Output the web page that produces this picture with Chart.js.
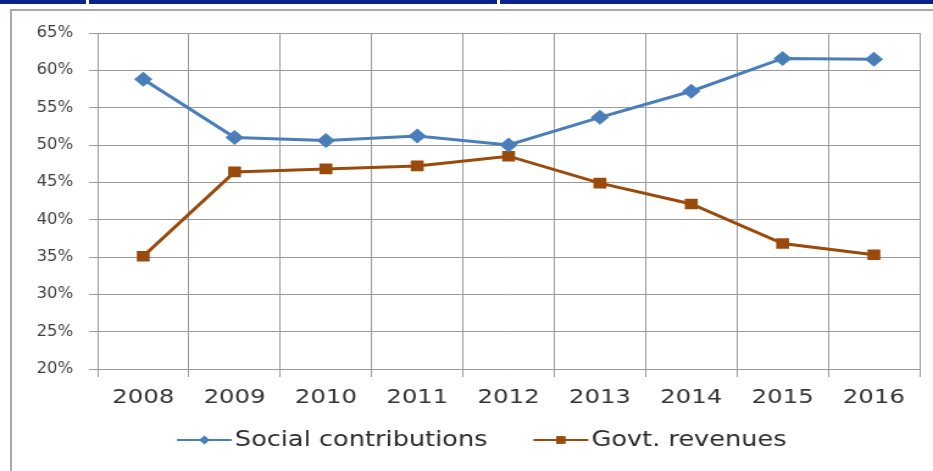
<!DOCTYPE html>
<html>
<head>
<meta charset="utf-8">
<title>Social contributions vs Govt. revenues</title>
<script src="https://cdn.jsdelivr.net/npm/chart.js@4/dist/chart.umd.min.js"></script>
<style>
  html, body { margin: 0; padding: 0; background: #fff; }
  body { width: 933px; height: 471px; position: relative; overflow: hidden; }
  .band { position: absolute; left: 0; top: 0; width: 933px; height: 4px; background: #0b238c; }
  .notch { position: absolute; top: 0; width: 3px; height: 4px; background: #fff; }
  .frame { position: absolute; left: 10px; top: 9px; width: 940px; height: 480px;
           border-left: 2px solid #a8a8a8; border-top: 2px solid #a8a8a8; }
  #chart { position: absolute; left: 0; top: 0; width: 765px; height: 471px;
           transform: scaleX(1.2196); transform-origin: 0 0; }
</style>
</head>
<body>
<div class="band"></div>
<div class="notch" style="left:86px"></div>
<div class="notch" style="left:497px"></div>
<div class="frame"></div>
<canvas id="chart" width="765" height="471"></canvas>
<script>
// --- DATOS ---
const years = ['2008', '2009', '2010', '2011', '2012', '2013', '2014', '2015', '2016'];
const socialContributions = [58.8, 51.0, 50.6, 51.2, 50.0, 53.7, 57.2, 61.6, 61.5];
const govtRevenues = [35.1, 46.4, 46.8, 47.2, 48.5, 44.9, 42.1, 36.8, 35.3];
const yTicks = [20, 25, 30, 35, 40, 45, 50, 55, 60, 65];

const BLUE = '#4a7ebb';
const BROWN = '#9a4b0b';
const GRID = '#9a9a9a';
const FONT = "'DejaVu Sans', Verdana, sans-serif";
const FONT_NARROW = "'DejaVu Sans Condensed', 'DejaVu Sans', sans-serif";

// leyenda con linea + marcador, debajo del eje
const lineLegend = {
  id: 'lineLegend',
  afterDraw(chart) {
    const ctx = chart.ctx;
    const y = 440;
    const lineLen = 45, gapText = 2.5, gapItem = 37.7;
    ctx.save();
    ctx.font = '21px ' + FONT;
    ctx.textBaseline = 'middle';
    const items = chart.data.datasets.map(ds => ({
      ds, w: lineLen + gapText + ctx.measureText(ds.label).width
    }));
    const total = items.reduce((s, it) => s + it.w, 0) + gapItem * (items.length - 1);
    let x = 395 - total / 2;
    items.forEach(({ ds, w }) => {
      ctx.strokeStyle = ds.borderColor;
      ctx.lineWidth = 2;
      ctx.beginPath();
      ctx.moveTo(x, y);
      ctx.lineTo(x + lineLen, y);
      ctx.stroke();
      ctx.fillStyle = ds.pointBackgroundColor;
      Chart.helpers.drawPoint(ctx, {
        pointStyle: ds.pointStyle, radius: ds.pointStyle === 'rect' ? 5.5 : 4.5, borderWidth: 0
      }, x + lineLen / 2, y);
      ctx.fillStyle = '#2b2b2b';
      ctx.fillText(ds.label, x + lineLen + gapText, y + 1);
      x += w + gapItem;
    });
    ctx.restore();
  }
};

new Chart(document.getElementById('chart'), {
  type: 'line',
  data: {
    labels: years,
    datasets: [
      {
        label: 'Social contributions',
        data: socialContributions,
        borderColor: BLUE,
        backgroundColor: BLUE,
        pointBackgroundColor: BLUE,
        pointBorderColor: BLUE,
        pointStyle: 'rectRot',
        pointRadius: 7.5,
        pointBorderWidth: 0,
        borderWidth: 3,
        tension: 0
      },
      {
        label: 'Govt. revenues',
        data: govtRevenues,
        borderColor: BROWN,
        backgroundColor: BROWN,
        pointBackgroundColor: BROWN,
        pointBorderColor: BROWN,
        pointStyle: 'rect',
        pointRadius: 7.5,
        pointBorderWidth: 0,
        borderWidth: 3,
        tension: 0
      }
    ]
  },
  options: {
    responsive: false,
    animation: false,
    layout: { padding: { left: 0, right: 11, top: 33, bottom: 62 } },
    plugins: {
      legend: { display: false },
      tooltip: { enabled: false }
    },
    scales: {
      x: {
        offset: true,
        grid: { color: GRID, lineWidth: 1, tickLength: 8, offset: true },
        border: { color: GRID },
        ticks: { color: '#333', font: { family: FONT, size: 20 }, padding: 9, maxRotation: 0 },
        afterFit(scale) { scale.height = 40; }
      },
      y: {
        min: 20,
        max: 65,
        afterBuildTicks(scale) { scale.ticks = yTicks.map(v => ({ value: v })); },
        grid: { color: GRID, lineWidth: 1, tickLength: 7 },
        border: { color: GRID },
        ticks: {
          color: '#404040',
          font: { family: FONT_NARROW, size: 15 },
          padding: 13,
          callback: v => v + '%'
        },
        afterFit(scale) { scale.width = 80; }
      }
    }
  },
  plugins: [lineLegend]
});
</script>
</body>
</html>
